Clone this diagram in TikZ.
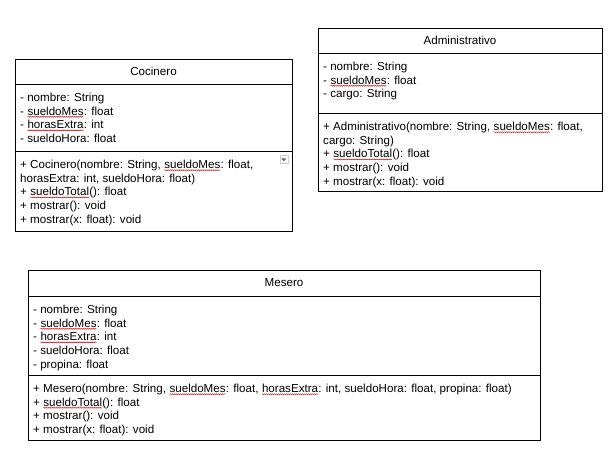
\documentclass[tikz,border=0pt]{standalone}
\usepackage{fontspec}
\setmainfont{Liberation Sans}
\usetikzlibrary{positioning,decorations.pathmorphing}

\tikzset{
  compart/.style={draw, line width=0.9pt, outer sep=0pt, inner sep=0pt, anchor=north west,
    font=\fontsize{11.6pt}{13.6pt}\selectfont},
  lista/.style={anchor=north west, align=left, inner xsep=5pt, inner ysep=9pt,
    font=\fontsize{11.6pt}{13.6pt}\selectfont},
}
% palabra subrayada por el corrector
\newcommand\corr[1]{\tikz[baseline=(pal.base)]{\node[inner sep=0pt, outer sep=0pt] (pal) {#1};
  \draw[red!85!black, line width=0.45pt, decorate, decoration={snake, amplitude=0.5pt, segment length=2pt}]
    ([yshift=-1.6pt]pal.base west) -- ([yshift=-1.6pt]pal.base east);}}

\begin{document}
\begin{tikzpicture}[x=1pt,y=-1pt]
  \useasboundingbox (0,0) rectangle (609,458);

  % Cocinero
  \node[compart, minimum width=277pt, minimum height=25pt] (cocTit) at (15,59) {Cocinero};
  \node[compart, minimum width=277pt, minimum height=67pt, below=0pt of cocTit] (cocAtr) {};
  \node[compart, minimum width=277pt, minimum height=80pt, below=0pt of cocAtr] (cocMet) {};
  \node[lista] (cocAtrTxt) at (cocAtr.north west) {- nombre: String\\- \corr{sueldoMes}: float\\
    - \corr{horasExtra}: int\\- sueldoHora: float};
  \node[lista] (cocMetTxt) at (cocMet.north west) {+ Cocinero(nombre: String, \corr{sueldoMes}: float,\\
    horasExtra: int, sueldoHora: float)\\+ \corr{sueldoTotal}(): float\\+ mostrar(): void\\+ mostrar(x: float): void};
  \node[draw=gray!40, fill=gray!4, line width=0.5pt, minimum size=8pt, inner sep=0pt, anchor=north west]
    (menu) at (279.5,155) {};
  \fill[gray!80!black] ([xshift=-2.6pt,yshift=1pt]menu.center) -- ([xshift=2.6pt,yshift=1pt]menu.center)
    -- ([yshift=-2.2pt]menu.center) -- cycle;

  % Administrativo
  \node[compart, minimum width=284pt, minimum height=25pt] (admTit) at (318,28) {Administrativo};
  \node[compart, minimum width=284pt, minimum height=60pt, below=0pt of admTit] (admAtr) {};
  \node[compart, minimum width=284pt, minimum height=78pt, below=0pt of admAtr] (admMet) {};
  \node[lista] (admAtrTxt) at (admAtr.north west) {- nombre: String\\- \corr{sueldoMes}: float\\- cargo: String};
  \node[lista] (admMetTxt) at (admMet.north west) {+ Administrativo(nombre: String, \corr{sueldoMes}: float,\\
    cargo: String)\\+ \corr{sueldoTotal}(): float\\+ mostrar(): void\\+ mostrar(x: float): void};

  % Mesero
  \node[compart, minimum width=512pt, minimum height=26pt] (mesTit) at (28,270) {Mesero};
  \node[compart, minimum width=512pt, minimum height=79pt, below=0pt of mesTit] (mesAtr) {};
  \node[compart, minimum width=512pt, minimum height=65pt, below=0pt of mesAtr] (mesMet) {};
  \node[lista] (mesAtrTxt) at (mesAtr.north west) {- nombre: String\\- \corr{sueldoMes}: float\\
    - \corr{horasExtra}: int\\- sueldoHora: float\\- propina: float};
  \node[lista] (mesMetTxt) at (mesMet.north west) {+ Mesero(nombre: String, \corr{sueldoMes}: float,
    \corr{horasExtra}: int, sueldoHora: float, propina: float)\\+ \corr{sueldoTotal}(): float\\
    + mostrar(): void\\+ mostrar(x: float): void};
\end{tikzpicture}
\end{document}
